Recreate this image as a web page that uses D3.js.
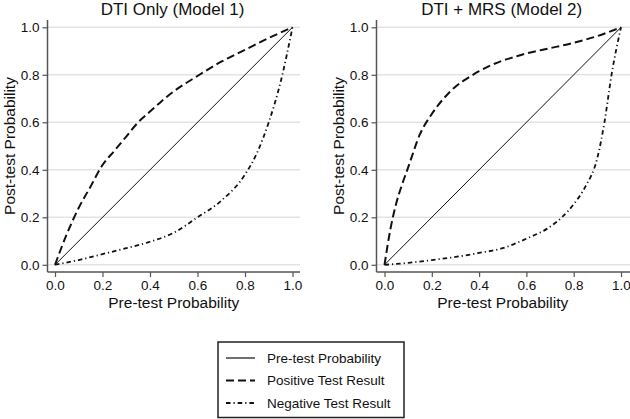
<!DOCTYPE html>
<html><head><meta charset="utf-8">
<script src="https://cdn.jsdelivr.net/npm/d3@7"></script>
<style>
html,body{margin:0;padding:0;background:#fff;}
svg{display:block;font-family:"Liberation Sans",Arial,sans-serif;}
</style></head>
<body><svg id="c" width="630" height="419"></svg>
<script>
// ---- data ----
const panelTitles = ["DTI Only (Model 1)", "DTI + MRS (Model 2)"];
const tickValues = [0, 0.2, 0.4, 0.6, 0.8, 1.0];
const diagP = [0, 1];
const diagPost = [0, 1];
const leftPosP = [0,0.05,0.1,0.15,0.2,0.25,0.3,0.35,0.4,0.45,0.5,0.6,0.7,0.8,0.9,1];
const leftPos  = [0,0.13,0.24,0.33,0.42,0.48,0.54,0.60,0.645,0.69,0.73,0.795,0.855,0.905,0.955,1];
const leftNegP = [0,0.1,0.2,0.3,0.4,0.5,0.6,0.7,0.8,0.85,0.9,0.95,1];
const leftNeg  = [0,0.02,0.045,0.07,0.097,0.135,0.2,0.27,0.38,0.47,0.6,0.77,1];
const rightPosP = [0,0.025,0.05,0.075,0.1,0.15,0.2,0.25,0.3,0.35,0.4,0.45,0.5,0.55,0.6,0.7,0.8,0.9,1];
const rightPos  = [0,0.15,0.26,0.34,0.41,0.55,0.635,0.70,0.75,0.785,0.815,0.84,0.86,0.875,0.89,0.912,0.935,0.963,1];
const rightNegP = [0,0.1,0.2,0.3,0.4,0.5,0.6,0.7,0.75,0.8,0.85,0.9,0.93,0.96,1];
const rightNeg  = [0,0.008,0.02,0.033,0.05,0.07,0.11,0.16,0.2,0.255,0.33,0.45,0.6,0.8,1];
const legendLabels = ["Pre-test Probability", "Positive Test Result", "Negative Test Result"];
const xTitle = "Pre-test Probability";
const yTitle = "Post-test Probability";

// ---- styles ----
const styles = [
  {w: 1, dash: null},
  {w: 2, dash: "8,4"},
  {w: 1.8, dash: "4.5,3,1.2,3"}
];

const svg = d3.select("#c");
svg.append("rect").attr("width",630).attr("height",419).attr("fill","#fff");

const zip = (a,b) => a.map((v,i)=>[v,b[i]]);
const panels = [
  {title: panelTitles[0], axisX: 47.5, x0: 55, x1: 292.5, right: 300, titleX: 172.5,
   series: [zip(diagP,diagPost), zip(leftPosP,leftPos), zip(leftNegP,leftNeg)]},
  {title: panelTitles[1], axisX: 376.5, x0: 384.5, x1: 621, right: 630, titleX: 501.7,
   series: [zip(diagP,diagPost), zip(rightPosP,rightPos), zip(rightNegP,rightNeg)]}
];
const yTop = 27.3, yBot = 264.8, axisY = 272, plotTop = 20;

panels.forEach(p => {
  const x = d3.scaleLinear().domain([0,1]).range([p.x0, p.x1]);
  const y = d3.scaleLinear().domain([0,1]).range([yBot, yTop]);
  const g = svg.append("g");

  // gridlines
  g.selectAll("line.grid").data(tickValues).enter().append("line")
    .attr("x1", p.axisX).attr("x2", p.right)
    .attr("y1", d=>y(d)).attr("y2", d=>y(d))
    .attr("stroke","#e3e3e3").attr("stroke-width",1.5);

  // y axis
  const ya = g.append("g").attr("transform",`translate(${p.axisX},0)`)
    .call(d3.axisLeft(y).tickValues(tickValues).tickFormat(d3.format(".1f")).tickSize(5).tickPadding(3).tickSizeOuter(0));
  ya.select(".domain").attr("d", `M0,${plotTop}V${axisY}`);
  // x axis
  const xa = g.append("g").attr("transform",`translate(0,${axisY})`)
    .call(d3.axisBottom(x).tickValues(tickValues).tickFormat(d3.format(".1f")).tickSize(5).tickPadding(3).tickSizeOuter(0));
  xa.select(".domain").attr("d", `M${p.axisX},0H${p.right}`);
  [ya, xa].forEach(a => {
    a.selectAll(".domain").attr("stroke","#555").attr("stroke-width",1.5);
    a.selectAll(".tick line").attr("stroke","#555").attr("stroke-width",1.2);
    a.selectAll(".tick text").attr("fill","#111").style("font-size","13.5px")
      .style("font-family",'"Liberation Sans",Arial,sans-serif');
  });

  // lines
  const line = d3.line().x(d=>x(d[0])).y(d=>y(d[1])).curve(d3.curveMonotoneX);
  p.series.forEach((s,i) => {
    g.append("path").datum(s).attr("d", line).attr("fill","none")
      .attr("stroke","#111").attr("stroke-width", styles[i].w)
      .attr("stroke-dasharray", styles[i].dash);
  });

  // titles
  g.append("text").attr("x", p.titleX).attr("y", 15).attr("text-anchor","middle")
    .style("font-size","17px").attr("fill","#111").text(p.title);
  g.append("text").attr("x", (p.x0+p.x1)/2).attr("y", 308).attr("text-anchor","middle")
    .style("font-size","15.5px").attr("fill","#111").text(xTitle);
  g.append("text").attr("transform", `translate(${p.axisX-33},146) rotate(-90)`)
    .attr("text-anchor","middle").style("font-size","15.5px").attr("fill","#111").text(yTitle);
});

// legend
const lg = svg.append("g");
lg.append("rect").attr("x",218).attr("y",342).attr("width",186).attr("height",75.5)
  .attr("fill","#fff").attr("stroke","#222").attr("stroke-width",1.5);
const rowY = [358, 380.5, 403];
legendLabels.forEach((lab,i) => {
  lg.append("line").attr("x1",226).attr("x2",255).attr("y1",rowY[i]).attr("y2",rowY[i])
    .attr("stroke","#111").attr("stroke-width", Math.max(styles[i].w,1.2))
    .attr("stroke-dasharray", styles[i].dash);
  lg.append("text").attr("x",267).attr("y",rowY[i]).attr("dy","0.35em")
    .style("font-size","13.5px").attr("fill","#111").text(lab);
});
</script></body></html>
